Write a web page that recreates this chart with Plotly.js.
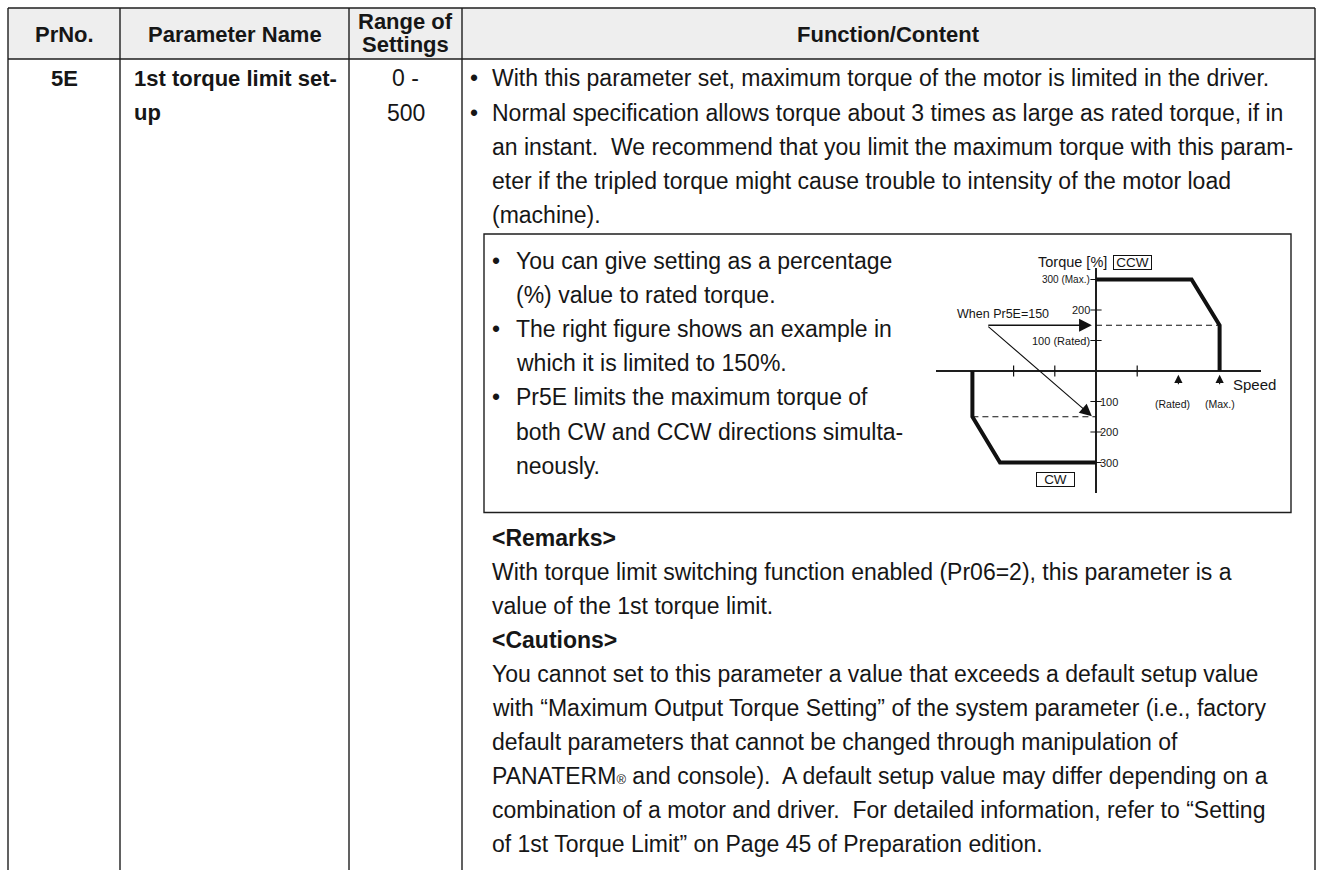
<!DOCTYPE html>
<html><head><meta charset="utf-8">
<script src="https://cdn.plot.ly/plotly-3.0.1.min.js"></script>
<style>html,body{margin:0;padding:0;background:#fff;overflow:hidden}#chart{width:1319px;height:870px}</style>
</head><body><div id="chart"></div>
<script>
// ---------- data ----------
const headerLabels = ['PrNo.', 'Parameter Name', 'Range of', 'Settings', 'Function/Content'];
const paramNo = '5E';
const paramNameLines = ['1st torque limit set-', 'up'];
const rangeLines = ['0 -', '500'];
const introLines = [
  ['•', 'With this parameter set, maximum torque of the motor is limited in the driver.'],
  ['•', 'Normal specification allows torque about 3 times as large as rated torque, if in'],
  ['', 'an instant.\u00a0 We recommend that you limit the maximum torque with this param-'],
  ['', 'eter if the tripled torque might cause trouble to intensity of the motor load'],
  ['', '(machine).']
];
const boxLines = [
  ['•', 'You can give setting as a percentage'],
  ['', '(%) value to rated torque.'],
  ['•', 'The right figure shows an example in'],
  ['', 'which it is limited to 150%.'],
  ['•', 'Pr5E limits the maximum torque of'],
  ['', 'both CW and CCW directions simulta-'],
  ['', 'neously.']
];
const noteLines = [
  ['b', '<Remarks>'],
  ['', 'With torque limit switching function enabled (Pr06=2), this parameter is a'],
  ['', 'value of the 1st torque limit.'],
  ['b', '<Cautions>'],
  ['', 'You cannot set to this parameter a value that exceeds a default setup value'],
  ['', 'with “Maximum Output Torque Setting” of the system parameter (i.e., factory'],
  ['', 'default parameters that cannot be changed through manipulation of'],
  ['', 'PANATERM<span style="font-size:13px">®</span> and console).\u00a0 A default setup value may differ depending on a'],
  ['', 'combination of a motor and driver.\u00a0 For detailed information, refer to “Setting'],
  ['', 'of 1st Torque Limit” on Page 45 of Preparation edition.']
];

// chart data (speed in tick units, torque in %)
const speedTicks = [-2, -1, 1];
const torqueTickValues = [300, 200, 100, -100, -200, -300];
const torqueTickLabels = ['300 (Max.)', '200', '100 (Rated)', '100', '200', '300'];
const ccwSpeed = [0, 2.32, 3, 3];
const ccwTorque = [300, 300, 150, 0];
const cwSpeed = [-3, -3, -2.33, 0];
const cwTorque = [0, -150, -300, -300];
const limitTorque = 150;
const maxSpeed = 3;
const speedMarkValues = [2, 3];
const speedMarkLabels = ['(Rated)', '(Max.)'];
const limitLabel = 'When Pr5E=150';
const limitArrowFrom = [-2.65, 150];
const limitArrowTo = [[-0.1, 150], [-0.1, -148]];

// ---------- layout helpers ----------
const W = 1319, H = 870;
const FONT = 'Liberation Sans, Arial, Helvetica, sans-serif';
const INK = '#161616';
const X = p => p / W;
const Y = p => 1 - p / H;
const annotations = [];
const shapes = [];
function txt(x, y, text, o = {}) {
  annotations.push({
    xref: 'paper', yref: 'paper', x: X(x), y: Y(y), text: text,
    showarrow: false, xanchor: o.anchor || 'left', yanchor: 'middle',
    font: {family: FONT, size: o.size || 23, color: INK}, borderpad: 0,
    ...(o.extra || {})
  });
}
function line(x0, y0, x1, y1, w = 1.4, c = '#1e1e1e') {
  shapes.push({type: 'line', xref: 'paper', yref: 'paper', x0: X(x0), y0: Y(y0), x1: X(x1), y1: Y(y1),
    line: {color: c, width: w}});
}

// ---------- table ----------
shapes.push({type: 'rect', xref: 'paper', yref: 'paper', x0: X(8), x1: X(1315), y0: Y(8), y1: Y(59),
  fillcolor: '#eeeeee', line: {width: 0}, layer: 'below'});
line(8, 8, 1315, 8);
line(8, 59, 1315, 59);
[8, 120, 349, 462, 1315].forEach(cx => line(cx, 8, cx, 872));
// inner box
shapes.push({type: 'rect', xref: 'paper', yref: 'paper', x0: X(484), x1: X(1291), y0: Y(234), y1: Y(512.5),
  line: {color: '#1e1e1e', width: 1.4}});

const HS = 22;
txt(64, 34.5, '<b>' + headerLabels[0] + '</b>', {anchor: 'center', size: HS});
txt(234.5, 34.5, '<b>' + headerLabels[1] + '</b>', {anchor: 'center', size: HS});
txt(405.5, 21.5, '<b>' + headerLabels[2] + '</b>', {anchor: 'center', size: HS});
txt(405.5, 44.5, '<b>' + headerLabels[3] + '</b>', {anchor: 'center', size: HS});
txt(888.5, 34.5, '<b>' + headerLabels[4] + '</b>', {anchor: 'center', size: HS});

const L0 = 78.5, LS = 34.2;
txt(64, L0, '<b>' + paramNo + '</b>', {anchor: 'center', size: HS});
paramNameLines.forEach((s, i) => txt(133, L0 + i * LS, '<b>' + s + '</b>', {size: HS}));
rangeLines.forEach((s, i) => txt(405.5, L0 + i * LS, s, {anchor: 'center'}));
introLines.forEach((r, i) => {
  if (r[0]) txt(474, L0 + i * LS, r[0], {anchor: 'center'});
  txt(491, L0 + i * LS, r[1]);
});
boxLines.forEach((r, i) => {
  const yy = 261 + i * 34.1;
  if (r[0]) txt(496, yy, r[0], {anchor: 'center'});
  txt(515, yy, r[1]);
});
noteLines.forEach((r, i) => {
  const yy = 538 + i * 34;
  txt(491, yy, r[0] === 'b' ? '<b>' + r[1] + '</b>' : r[1]);
});

// ---------- chart (axes placed inside the box) ----------
const OX = 1096, OY = 371, UX = 41.2, UY = 0.305;
const xL = 936, xR = 1261, yT = 268.3, yB = 493.3;
const xaxis = {domain: [X(xL), X(xR)], range: [(xL - OX) / UX, (xR - OX) / UX], showgrid: false,
  zeroline: true, zerolinecolor: '#1e1e1e', zerolinewidth: 1.4, showticklabels: false, ticks: '',
  showline: false, fixedrange: true};
const yaxis = {domain: [Y(yB), Y(yT)], range: [-(yB - OY) / UY, (OY - yT) / UY], showgrid: false,
  zeroline: true, zerolinecolor: '#1e1e1e', zerolinewidth: 1.4, showticklabels: false, ticks: '',
  showline: false, fixedrange: true};

const traces = [
  {x: ccwSpeed, y: ccwTorque, mode: 'lines', line: {color: '#111', width: 4}, cliponaxis: false},
  {x: cwSpeed, y: cwTorque, mode: 'lines', line: {color: '#111', width: 4}, cliponaxis: false},
  {x: [0, maxSpeed], y: [limitTorque, limitTorque], mode: 'lines', line: {color: '#111', width: 1.1, dash: '6px,4px'}},
  {x: [-maxSpeed, 0], y: [-limitTorque, -limitTorque], mode: 'lines', line: {color: '#111', width: 1.1, dash: '6px,4px'}},
  {x: speedTicks, y: speedTicks.map(() => 0), mode: 'markers',
    marker: {symbol: 'line-ns-open', size: 8, color: '#111', line: {color: '#111', width: 1.2}}},
  {x: torqueTickValues.map(() => 0), y: torqueTickValues, mode: 'markers',
    marker: {symbol: 'line-ew-open', size: 8, color: '#111', line: {color: '#111', width: 1.2}}}
];

torqueTickValues.forEach((v, i) => {
  annotations.push({xref: 'x', yref: 'y', x: 0, y: v, text: torqueTickLabels[i], showarrow: false,
    xanchor: v > 0 ? 'right' : 'left', yanchor: 'middle', xshift: v > 0 ? -5 : 3,
    font: {family: FONT, size: v === 300 ? 10 : 11, color: INK}, borderpad: 0});
});
limitArrowTo.forEach((t, i) => {
  annotations.push({xref: 'x', yref: 'y', axref: 'x', ayref: 'y', x: t[0], y: t[1],
    ax: limitArrowFrom[0], ay: limitArrowFrom[1], text: '', showarrow: true,
    arrowhead: 2, arrowsize: i === 0 ? 1.6 : 2.2, arrowwidth: i === 0 ? 1.6 : 1.1, arrowcolor: '#111'});
});
speedMarkValues.forEach((s, i) => {
  annotations.push({xref: 'x', yref: 'y', axref: 'x', ayref: 'y', x: s, y: -12, ax: s, ay: -48,
    text: '', showarrow: true, arrowhead: 2, arrowsize: 1.5, arrowwidth: 1.1, arrowcolor: '#111'});
  annotations.push({xref: 'x', yref: 'y', x: s, y: -108, text: speedMarkLabels[i], showarrow: false,
    xanchor: 'center', yanchor: 'middle', xshift: i === 0 ? -6 : 0,
    font: {family: FONT, size: 10.5, color: INK}});
});
txt(1003, 314, limitLabel, {anchor: 'center', size: 12.5});
txt(1108, 262, 'Torque [%]', {anchor: 'right', size: 14.5});
txt(1232, 385, 'Speed', {size: 15});
txt(1132.5, 262, 'CCW', {anchor: 'center', size: 13.5,
  extra: {bordercolor: '#111', borderwidth: 1, borderpad: 0, width: 37, height: 13}});
txt(1055.5, 479, 'CW', {anchor: 'center', size: 13.5,
  extra: {bordercolor: '#111', borderwidth: 1, borderpad: 0, width: 37, height: 13}});

const layout = {
  width: W, height: H, margin: {l: 0, r: 0, t: 0, b: 0},
  paper_bgcolor: '#ffffff', plot_bgcolor: 'rgba(0,0,0,0)',
  showlegend: false, xaxis: xaxis, yaxis: yaxis,
  shapes: shapes, annotations: annotations, font: {family: FONT, color: INK}
};
Plotly.newPlot('chart', traces, layout, {staticPlot: true, displayModeBar: false});
</script>
</body></html>
